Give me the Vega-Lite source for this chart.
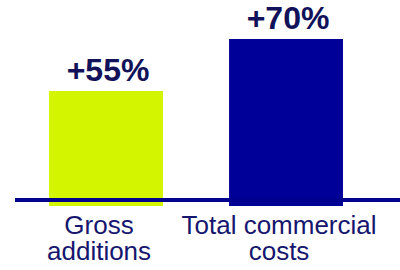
{
  "$schema": "https://vega.github.io/schema/vega-lite/v6.json",
  "width": 385,
  "height": 206,
  "autosize": {"type": "none"},
  "padding": {"left": 15, "top": 0, "right": 0, "bottom": 64},
  "background": "white",
  "config": {"view": {"stroke": null}},
  "data": {
    "values": [
      {"category": "Gross\nadditions", "value": 115, "pct": "+55%", "color": "#d4f500"},
      {"category": "Total commercial\ncosts", "value": 167, "pct": "+70%", "color": "#000099"}
    ]
  },
  "encoding": {
    "x": {
      "field": "category",
      "type": "nominal",
      "sort": null,
      "axis": null,
      "scale": {"paddingInner": 0.367, "paddingOuter": 0.253, "align": 0.374}
    }
  },
  "layer": [
    {
      "mark": {"type": "bar"},
      "encoding": {
        "y": {"field": "value", "type": "quantitative", "axis": null, "scale": {"domain": [0, 206], "nice": false, "zero": true}},
        "color": {"field": "color", "type": "nominal", "scale": null, "legend": null}
      }
    },
    {
      "data": {"values": [{"base": 6}]},
      "mark": {"type": "rule", "color": "#00008f", "strokeWidth": 4},
      "encoding": {
        "x": null,
        "y": {"field": "base", "type": "quantitative"}
      }
    },
    {
      "mark": {"type": "text", "font": "Liberation Sans", "fontWeight": "bold", "fontSize": 32, "color": "#12125a", "baseline": "alphabetic", "dy": -10, "dx": 2},
      "encoding": {
        "y": {"field": "value", "type": "quantitative"},
        "text": {"field": "pct"}
      }
    },
    {
      "mark": {"type": "text", "font": "Liberation Sans", "fontSize": 26, "color": "#16166e", "baseline": "alphabetic", "lineBreak": "\n", "lineHeight": 26, "dy": 28, "dx": -7},
      "encoding": {
        "y": {"datum": 0, "type": "quantitative"},
        "text": {"field": "category"}
      }
    }
  ]
}
